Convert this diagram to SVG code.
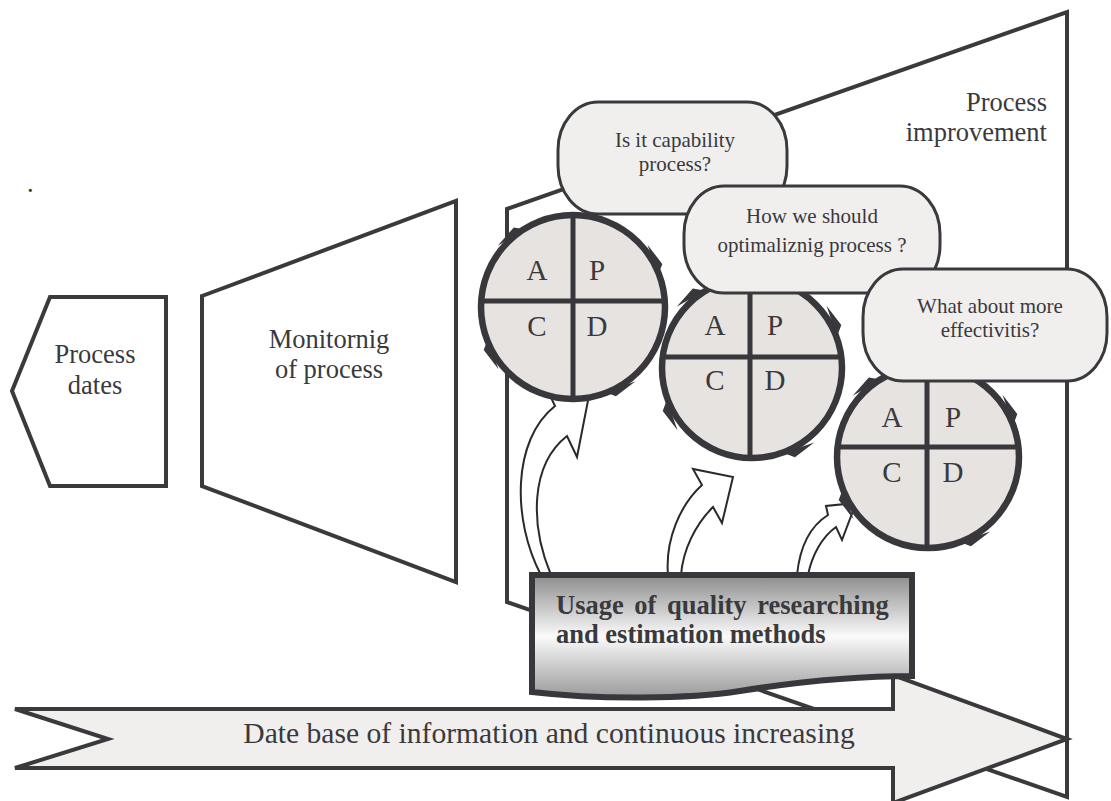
<svg xmlns="http://www.w3.org/2000/svg" xmlns:xlink="http://www.w3.org/1999/xlink" width="1111" height="801" viewBox="0 0 1111 801">
  <style>
    .shape { fill: #ffffff; stroke: #3a393c; stroke-width: 4; }
    .bubble { fill: #f0efee; stroke: #3a393c; stroke-width: 3; }
    .disc { fill: #e6e3e1; }
    .ring { fill: none; stroke: #38373b; stroke-width: 6.5; }
    .div { stroke: #38373b; stroke-width: 5; }
    .barb { fill: #38373b; }
    .arr { fill: #ffffff; stroke: #2a2a2c; stroke-width: 2; stroke-linejoin: miter; }
    .t { font-family: "Liberation Serif", "Times New Roman", serif; fill: #3a393c; }
    .big { font-size: 26.5px; }
    .small { font-size: 21px; }
    .pdca { font-size: 29px; text-anchor: middle; }
    .mid { text-anchor: middle; }
  </style>
  <defs>
    <path id="barb" d="M90,12 L95,-20 L99,4 Z"/>
    <linearGradient id="boxg" x1="0" y1="0" x2="0" y2="1">
      <stop offset="0" stop-color="#8c8c8c"/>
      <stop offset="0.5" stop-color="#fafafa"/>
      <stop offset="1" stop-color="#9a9a9a"/>
    </linearGradient>
  </defs>

  <rect width="1111" height="801" fill="#ffffff"/>

  <text class="t big" x="27" y="192">.</text>

  <!-- Process improvement region -->
  <g id="process-improvement">
    <polygon class="shape" points="507,209 1067,12 1067,797 507,602"/>
    <text class="t big" x="1047" y="111" text-anchor="end">Process</text>
    <text class="t big" x="1047" y="141" text-anchor="end">improvement</text>
  </g>

  <!-- Process dates -->
  <g id="process-dates">
    <polygon class="shape" points="12,391 50,297 166,297 166,486 50,486"/>
    <text class="t big mid" x="95" y="363">Process</text>
    <text class="t big mid" x="95" y="394">dates</text>
  </g>

  <!-- Monitoring -->
  <g id="monitoring">
    <polygon class="shape" points="202,296 456,201 456,582 202,486"/>
    <text class="t big mid" x="329" y="348">Monitornig</text>
    <text class="t big mid" x="329" y="378">of process</text>
  </g>

  <!-- Connectors: curved block arrows -->
  <g id="connectors">
    <path class="arr" d="M541,575 C512,520 512,440 555,406 L547,389 L592,380 L577,457 L567,436 C530,465 530,525 551,575 Z"/>
    <path class="arr" d="M668,575 C665,540 680,505 702,485 L693,469 L733,477 L722,523 L713,507 C695,525 683,550 681,575 Z"/>
    <path class="arr" d="M797,575 C800,545 812,525 828,515 L826,506 L856,503 L842,540 L836,527 C822,537 812,555 808,575 Z"/>
  </g>

  <!-- PDCA circle 1 -->
  <g id="pdca-1">
    <circle class="disc" cx="573" cy="307" r="92"/>
    <line class="div" x1="481" y1="301" x2="665" y2="301"/>
    <line class="div" x1="573" y1="215" x2="573" y2="399"/>
    <circle class="ring" cx="573" cy="307" r="92"/>
    <use href="#barb" class="barb" transform="translate(573,307) rotate(-28)"/>
    <use href="#barb" class="barb" transform="translate(573,307) rotate(62)"/>
    <use href="#barb" class="barb" transform="translate(573,307) rotate(152)"/>
    <use href="#barb" class="barb" transform="translate(573,307) rotate(231)"/>
    <text class="t pdca" x="537" y="280">A</text>
    <text class="t pdca" x="597" y="280">P</text>
    <text class="t pdca" x="537" y="336">C</text>
    <text class="t pdca" x="597" y="336">D</text>
  </g>

  <!-- PDCA circle 2 -->
  <g id="pdca-2">
    <circle class="disc" cx="752" cy="368" r="90"/>
    <line class="div" x1="662" y1="357" x2="842" y2="357"/>
    <line class="div" x1="750" y1="278" x2="750" y2="458"/>
    <circle class="ring" cx="752" cy="368" r="90"/>
    <use href="#barb" class="barb" transform="translate(752,368) rotate(-28)"/>
    <use href="#barb" class="barb" transform="translate(752,368) rotate(62)"/>
    <use href="#barb" class="barb" transform="translate(752,368) rotate(152)"/>
    <use href="#barb" class="barb" transform="translate(752,368) rotate(231)"/>
    <text class="t pdca" x="715" y="335">A</text>
    <text class="t pdca" x="775" y="335">P</text>
    <text class="t pdca" x="715" y="390">C</text>
    <text class="t pdca" x="775" y="390">D</text>
  </g>

  <!-- PDCA circle 3 -->
  <g id="pdca-3">
    <circle class="disc" cx="928" cy="457" r="91"/>
    <line class="div" x1="837" y1="447" x2="1019" y2="447"/>
    <line class="div" x1="927" y1="366" x2="927" y2="548"/>
    <circle class="ring" cx="928" cy="457" r="91"/>
    <use href="#barb" class="barb" transform="translate(928,457) rotate(-28)"/>
    <use href="#barb" class="barb" transform="translate(928,457) rotate(62)"/>
    <use href="#barb" class="barb" transform="translate(928,457) rotate(152)"/>
    <use href="#barb" class="barb" transform="translate(928,457) rotate(231)"/>
    <text class="t pdca" x="892" y="427">A</text>
    <text class="t pdca" x="953" y="427">P</text>
    <text class="t pdca" x="892" y="482">C</text>
    <text class="t pdca" x="953" y="482">D</text>
  </g>

  <!-- Bubbles -->
  <g id="bubble-capability">
    <rect class="bubble" x="558" y="102" width="229" height="112" rx="40" ry="48"/>
    <text class="t small mid" x="675" y="147">Is it capability</text>
    <text class="t small mid" x="675" y="171">process?</text>
  </g>
  <g id="bubble-optimal">
    <rect class="bubble" x="684" y="186" width="256" height="107" rx="40" ry="48"/>
    <text class="t small mid" x="812" y="223">How we should</text>
    <text class="t small mid" x="812" y="252">optimaliznig process ?</text>
  </g>
  <g id="bubble-effect">
    <rect class="bubble" x="863" y="269" width="244" height="112" rx="40" ry="48"/>
    <text class="t small mid" x="990" y="313">What about more</text>
    <text class="t small mid" x="990" y="337">effectivitis?</text>
  </g>

  <!-- Big bottom arrow -->
  <g id="database-arrow">
    <path d="M15,709 L893,709 L893,675 L1067,739 L893,803 L893,768 L15,768 L108,739 Z" fill="#f0efee" stroke="#3a393c" stroke-width="4"/>
    <text class="t mid" x="549" y="743" font-size="29.6">Date base of information and continuous increasing</text>
  </g>

  <!-- Methods box -->
  <g id="methods-box">
    <path d="M532,575 H912 V676 C850,676 790,683 740,691 C690,699 600,700 532,692 Z" fill="url(#boxg)" stroke="#38373b" stroke-width="6"/>
    <text class="t" x="556" y="614" font-size="26.5" font-weight="bold" word-spacing="4">Usage of quality researching</text>
    <text class="t" x="556" y="643" font-size="26.5" font-weight="bold">and estimation methods</text>
  </g>
</svg>
